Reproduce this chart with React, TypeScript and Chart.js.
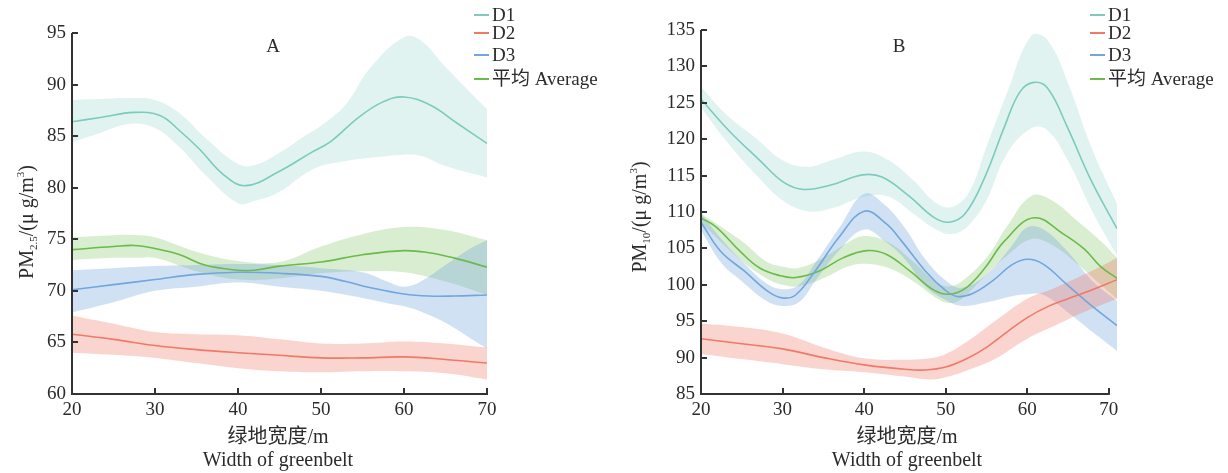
import React, { useEffect, useRef } from 'react';
import { Chart, registerables } from 'chart.js';

Chart.register(...registerables);

const FONT = "'Liberation Serif', 'Noto Sans CJK SC', serif";
const TXT = '#2b2b2b';
const AXIS = '#333333';

const C_D1 = '#7ccbbd';
const C_D2 = '#f07a68';
const C_D3 = '#72a6dd';
const C_AV = '#6bbb4b';
const B_D1 = 'rgba(127,205,192,0.24)';
const B_D2 = 'rgba(240,112,96,0.30)';
const B_D3 = 'rgba(111,163,220,0.32)';
const B_AV = 'rgba(108,185,78,0.26)';

const legendLabels = ['D1', 'D2', 'D3', '平均 Average'];
const xTickValues = [20, 30, 40, 50, 60, 70];
const aYTicks = [60, 65, 70, 75, 80, 85, 90, 95];
const bYTicks = [85, 90, 95, 100, 105, 110, 115, 120, 125, 130, 135];

// ---------------- Panel A (PM2.5) ----------------
const aD1X = [20, 23.4, 27.5, 30.6, 33, 35.4, 38.2, 40.9, 45, 48.8, 51.2, 54.5, 57.4, 60, 63.2, 66.5, 70];
const aD1Y = [86.4, 86.8, 87.3, 87.0, 85.5, 83.7, 81.3, 80.2, 81.6, 83.4, 84.5, 86.8, 88.3, 88.8, 88.0, 86.2, 84.3];
const aD1BandX = [20, 23, 27, 30, 33, 36, 40, 42, 45, 48, 50, 53, 56, 60, 62, 65, 70];
const aD1Hi = [88.5, 88.6, 88.7, 88.5, 87.2, 84.9, 82.3, 82.2, 83.4, 85.0, 86.0, 88.1, 91.7, 94.6, 94.3, 91.7, 87.6];
const aD1Lo = [84.4, 85.2, 86.2, 85.8, 83.9, 81.3, 78.5, 78.7, 79.6, 81.3, 82.1, 82.6, 82.9, 83.2, 83.1, 82.1, 81.0];

const aD2X = [20, 25, 30, 35, 40, 45, 50, 55, 60, 65, 70];
const aD2Y = [65.8, 65.3, 64.7, 64.3, 64.0, 63.75, 63.5, 63.5, 63.6, 63.35, 63.0];
const aD2Hi = [67.6, 66.8, 66.0, 65.8, 65.7, 65.3, 64.9, 64.9, 65.1, 64.9, 64.5];
const aD2Lo = [64.0, 63.8, 63.5, 63.0, 62.5, 62.2, 62.1, 62.2, 62.2, 62.0, 61.4];

const aD3X = [20, 25, 30, 35, 40, 45, 50, 53, 56, 60, 63, 66, 70];
const aD3Y = [70.1, 70.6, 71.1, 71.6, 71.8, 71.7, 71.4, 70.9, 70.3, 69.7, 69.5, 69.5, 69.6];
const aD3BandX = [20, 25, 30, 35, 40, 45, 50, 55, 58, 60, 62, 65, 68, 70];
const aD3Hi = [72.0, 72.2, 72.4, 72.5, 72.6, 72.5, 72.2, 71.8, 70.9, 70.4, 70.9, 72.5, 74.1, 74.9];
const aD3Lo = [67.9, 68.9, 70.0, 70.4, 70.8, 70.4, 70.0, 69.3, 68.8, 68.5, 68.0, 66.9, 65.4, 64.4];

const aAvX = [20, 25, 27.5, 30, 33, 36, 40, 42, 45, 50, 55, 60, 63, 66, 70];
const aAvY = [74.0, 74.3, 74.4, 74.1, 73.5, 72.5, 72.0, 72.0, 72.4, 72.8, 73.5, 73.9, 73.7, 73.2, 72.3];
const aAvBandX = [20, 25, 28, 30, 35, 40, 45, 50, 55, 60, 65, 70];
const aAvHi = [75.2, 75.4, 75.4, 75.2, 73.8, 72.9, 72.8, 74.3, 75.5, 76.2, 75.9, 74.9];
const aAvLo = [73.0, 73.2, 73.2, 73.2, 71.9, 71.1, 71.2, 71.7, 71.9, 71.8, 70.9, 69.6];

// ---------------- Panel B (PM10) ----------------
const bD1X = [20, 23.4, 27.2, 30.1, 32.6, 35.9, 39.8, 42.2, 45.6, 48.5, 50.4, 52.4, 54.8, 57.2, 59.1, 60.8, 62.5, 64.9, 67.8, 71];
const bD1Y = [125.5, 121.2, 117.1, 114.1, 113.1, 113.7, 115.1, 114.8, 112.1, 109.3, 108.6, 109.8, 114.8, 121.7, 126.5, 127.8, 127.0, 121.7, 114.4, 107.7];
const bD1BandX = [20, 23, 27, 30, 33, 36, 40, 43, 46, 49, 51, 53, 55, 57.5, 60.5, 62.5, 65, 68, 71];
const bD1Hi = [127.2, 123.5, 119.9, 117.1, 116.2, 117.1, 118.3, 117.1, 114.4, 111.1, 110.8, 113.0, 119.0, 126.3, 134.2, 133.6, 127.7, 118.5, 111.1];
const bD1Lo = [124.4, 119.9, 114.8, 111.6, 110.1, 110.5, 112.1, 112.1, 109.8, 107.5, 107.0, 108.4, 111.6, 118.0, 121.5, 121.2, 117.0, 110.0, 104.0];

const bD2X = [20, 25, 30, 35, 40, 45, 47.5, 50, 52.5, 55, 57.5, 60, 62.5, 65, 67.5, 71];
const bD2Y = [92.6, 91.9, 91.2, 90.0, 89.0, 88.4, 88.3, 88.7, 89.8, 91.4, 93.5, 95.5, 97.0, 98.1, 99.1, 100.7];
const bD2BandX = [20, 25, 30, 35, 40, 45, 48, 50, 53, 56, 60, 63, 66, 69, 71];
const bD2Hi = [94.7, 94.2, 93.3, 91.4, 89.9, 89.7, 89.9, 90.5, 92.5, 95.0, 98.1, 99.4, 100.9, 102.5, 103.7];
const bD2Lo = [90.5, 89.8, 89.1, 88.4, 88.0, 87.4, 87.0, 87.3, 88.4, 89.8, 92.6, 94.2, 95.8, 97.2, 98.1];

const bD3X = [20, 22.4, 25.3, 28.2, 30, 31.6, 34, 36.9, 40, 42.7, 44.6, 47.5, 49.9, 51.4, 53.3, 55.7, 58.2, 60.1, 62, 64.9, 67.8, 71];
const bD3Y = [108.6, 104.6, 101.9, 99.1, 98.2, 98.6, 101.9, 106.5, 110.1, 108.4, 106.0, 101.9, 99.3, 98.4, 98.8, 100.5, 102.8, 103.5, 102.8, 100.0, 97.2, 94.4];
const bD3BandX = [20, 22.5, 25, 28, 30, 32, 34, 37, 40, 42.5, 45, 47.5, 50, 52, 55, 58, 60, 62, 65, 68, 71];
const bD3Hi = [109.8, 106.3, 103.3, 100.2, 99.4, 100.0, 103.0, 107.9, 112.5, 111.0, 107.8, 103.5, 100.6, 99.6, 101.4, 105.2, 107.9, 107.6, 104.5, 100.5, 97.8];
const bD3Lo = [107.5, 103.0, 100.5, 97.8, 97.1, 97.6, 100.5, 104.8, 107.6, 106.0, 103.5, 99.8, 97.9, 97.1, 97.6, 98.4, 98.7, 98.6, 96.2, 93.5, 90.9];

const bAvX = [20, 21.9, 24.8, 27.2, 29.7, 31.6, 34.5, 37.4, 40.3, 42.7, 45.6, 48.5, 50.4, 52.4, 54.8, 57.2, 60.8, 64.4, 67, 69, 71];
const bAvY = [109.2, 107.9, 104.6, 102.3, 101.25, 101.0, 101.9, 103.7, 104.7, 104.2, 101.9, 99.3, 98.7, 99.5, 102.3, 106.0, 109.2, 107.0, 104.9, 102.5, 100.9];
const bAvBandX = [20, 25, 28, 30, 32, 35, 38, 40, 43, 46, 49, 50.5, 52, 55, 57.5, 60.5, 63, 66, 69, 71];
const bAvHi = [109.8, 106.0, 103.2, 102.5, 102.3, 103.7, 105.8, 106.7, 105.8, 103.2, 100.2, 99.8, 100.5, 103.7, 108.0, 112.2, 111.6, 108.9, 106.0, 103.7];
const bAvLo = [108.5, 103.3, 100.9, 100.0, 99.8, 100.9, 102.5, 102.9, 102.3, 100.5, 98.1, 97.5, 98.1, 101.4, 104.0, 106.3, 105.5, 103.0, 100.0, 98.1];

type Series = {
  color: string;
  band: string;
  lx: number[];
  ly: number[];
  bx: number[];
  hi: number[];
  lo: number[];
};

type Spec = {
  title: string;
  titleX: number;
  xMax: number;
  yMin: number;
  yMax: number;
  yTicks: number[];
  area: { left: number; right: number; top: number; bottom: number };
  series: Series[];
  legendX: [number, number, number];
  legendY: number[];
  yTitle: { x: number; y: number; sub: string };
  xTitleX: number;
};

const W = 614;
const H = 473;
const TENSION = 0.4;

const pts = (xs: number[], ys: number[]) => xs.map((x, i) => ({ x, y: ys[i] }));

function buildDatasets(series: Series[]) {
  const ds: any[] = [];
  series.forEach((s) => {
    ds.push({
      data: pts(s.lx, s.ly),
      borderColor: s.color,
      borderWidth: 1.6,
      pointRadius: 0,
      fill: false,
      tension: TENSION,
    });
  });
  series.forEach((s) => {
    const loIndex = ds.length;
    ds.push({
      data: pts(s.bx, s.lo),
      borderColor: 'rgba(0,0,0,0)',
      borderWidth: 0,
      pointRadius: 0,
      fill: false,
      tension: TENSION,
    });
    ds.push({
      data: pts(s.bx, s.hi),
      borderColor: 'rgba(0,0,0,0)',
      borderWidth: 0,
      pointRadius: 0,
      backgroundColor: s.band,
      fill: { target: loIndex },
      tension: TENSION,
    });
  });
  return ds;
}

function decorPlugin(spec: Spec) {
  return {
    id: 'decor',
    afterDatasetsDraw(chart: any) {
      const { ctx, chartArea: a, scales } = chart;
      const x = scales.x;
      const y = scales.y;
      ctx.save();
      ctx.strokeStyle = AXIS;
      ctx.lineWidth = 2;
      const x0 = a.left;
      const xEnd = x.getPixelForValue(xTickValues[xTickValues.length - 1]);
      ctx.beginPath();
      ctx.moveTo(x0, a.top);
      ctx.lineTo(x0, a.bottom);
      ctx.lineTo(xEnd + 1, a.bottom);
      ctx.stroke();
      ctx.beginPath();
      spec.yTicks.forEach((v) => {
        const py = Math.round(y.getPixelForValue(v));
        ctx.moveTo(x0, py);
        ctx.lineTo(x0 + 6, py);
      });
      xTickValues.forEach((v) => {
        const px = Math.round(x.getPixelForValue(v));
        ctx.moveTo(px, a.bottom);
        ctx.lineTo(px, a.bottom - 6);
      });
      ctx.stroke();

      ctx.fillStyle = TXT;
      ctx.font = `19px ${FONT}`;
      ctx.textAlign = 'center';
      ctx.textBaseline = 'middle';
      ctx.fillText(spec.title, spec.titleX, 47);

      const [l1, l2, tx] = spec.legendX;
      const colors = spec.series.map((s) => s.color);
      legendLabels.forEach((lab, i) => {
        const ly = spec.legendY[i];
        ctx.strokeStyle = colors[i];
        ctx.lineWidth = 2;
        ctx.beginPath();
        ctx.moveTo(l1, ly);
        ctx.lineTo(l2, ly);
        ctx.stroke();
        ctx.fillStyle = TXT;
        ctx.textAlign = 'left';
        ctx.textBaseline = 'middle';
        ctx.font = `19px ${FONT}`;
        ctx.fillText(lab, tx, ly + 1);
      });

      ctx.fillStyle = TXT;
      ctx.textAlign = 'center';
      ctx.textBaseline = 'middle';
      ctx.font = `20px ${FONT}`;
      ctx.fillText('绿地宽度/m', spec.xTitleX, 438);
      ctx.fillText('Width of greenbelt', spec.xTitleX, 461);

      const parts = [
        { t: 'PM', s: 20, dy: 0 },
        { t: spec.yTitle.sub, s: 11, dy: 4 },
        { t: '/(μ g/m', s: 20, dy: 0 },
        { t: '3', s: 11, dy: -9 },
        { t: ')', s: 20, dy: 0 },
      ];
      let total = 0;
      const widths = parts.map((p) => {
        ctx.font = `${p.s}px ${FONT}`;
        const w = ctx.measureText(p.t).width;
        total += w;
        return w;
      });
      ctx.translate(spec.yTitle.x, spec.yTitle.y);
      ctx.rotate(-Math.PI / 2);
      ctx.textAlign = 'left';
      ctx.textBaseline = 'alphabetic';
      let cx = -total / 2;
      parts.forEach((p, i) => {
        ctx.font = `${p.s}px ${FONT}`;
        ctx.fillText(p.t, cx, p.dy);
        cx += widths[i];
      });
      ctx.restore();
    },
  };
}

function Panel({ spec, left }: { spec: Spec; left: number }) {
  const ref = useRef<HTMLCanvasElement | null>(null);
  useEffect(() => {
    if (!ref.current) return;
    const a = spec.area;
    const chart = new Chart(ref.current, {
      type: 'line',
      data: { datasets: buildDatasets(spec.series) },
      options: {
        animation: false,
        responsive: false,
        events: [],
        layout: { padding: { left: 0, top: a.top, right: W - a.right, bottom: 0 } },
        plugins: {
          legend: { display: false },
          tooltip: { enabled: false },
          title: { display: false },
          filler: { drawTime: 'beforeDatasetsDraw', propagate: false },
        },
        scales: {
          x: {
            type: 'linear',
            min: 20,
            max: spec.xMax,
            afterBuildTicks: (s: any) => {
              s.ticks = xTickValues.map((v) => ({ value: v }));
            },
            afterFit: (s: any) => {
              s.height = H - a.bottom;
              s.paddingLeft = 0;
              s.paddingRight = 0;
            },
            ticks: {
              autoSkip: false,
              maxRotation: 0,
              padding: 5,
              color: TXT,
              font: { family: FONT, size: 19 },
              callback: (v: any) => String(v),
            },
            grid: { display: false, drawTicks: false },
            border: { display: false },
          },
          y: {
            type: 'linear',
            min: spec.yMin,
            max: spec.yMax,
            afterBuildTicks: (s: any) => {
              s.ticks = spec.yTicks.map((v) => ({ value: v }));
            },
            afterFit: (s: any) => {
              s.width = a.left;
              s.paddingTop = 0;
              s.paddingBottom = 0;
            },
            ticks: {
              autoSkip: false,
              padding: 6,
              color: TXT,
              font: { family: FONT, size: 19 },
              callback: (v: any) => String(v),
            },
            grid: { display: false, drawTicks: false },
            border: { display: false },
          },
        },
      } as any,
      plugins: [decorPlugin(spec)],
    });
    return () => chart.destroy();
  }, [spec]);
  return (
    <canvas
      ref={ref}
      width={W}
      height={H}
      style={{ position: 'absolute', left, top: 0, width: W, height: H }}
    />
  );
}

const specA: Spec = {
  title: 'A',
  titleX: 273,
  xMax: 70,
  yMin: 60,
  yMax: 95,
  yTicks: aYTicks,
  area: { left: 72, right: 487, top: 33, bottom: 394 },
  series: [
    { color: C_D1, band: B_D1, lx: aD1X, ly: aD1Y, bx: aD1BandX, hi: aD1Hi, lo: aD1Lo },
    { color: C_D2, band: B_D2, lx: aD2X, ly: aD2Y, bx: aD2X, hi: aD2Hi, lo: aD2Lo },
    { color: C_D3, band: B_D3, lx: aD3X, ly: aD3Y, bx: aD3BandX, hi: aD3Hi, lo: aD3Lo },
    { color: C_AV, band: B_AV, lx: aAvX, ly: aAvY, bx: aAvBandX, hi: aAvHi, lo: aAvLo },
  ],
  legendX: [474, 489, 492],
  legendY: [15, 33, 55, 79],
  yTitle: { x: 33, y: 222, sub: '2.5' },
  xTitleX: 278,
};

const specB: Spec = {
  title: 'B',
  titleX: 899 - 614,
  xMax: 71,
  yMin: 85,
  yMax: 135,
  yTicks: bYTicks,
  area: { left: 87, right: 1117 - 614, top: 30, bottom: 394 },
  series: [
    { color: C_D1, band: B_D1, lx: bD1X, ly: bD1Y, bx: bD1BandX, hi: bD1Hi, lo: bD1Lo },
    { color: C_D2, band: B_D2, lx: bD2X, ly: bD2Y, bx: bD2BandX, hi: bD2Hi, lo: bD2Lo },
    { color: C_D3, band: B_D3, lx: bD3X, ly: bD3Y, bx: bD3BandX, hi: bD3Hi, lo: bD3Lo },
    { color: C_AV, band: B_AV, lx: bAvX, ly: bAvY, bx: bAvBandX, hi: bAvHi, lo: bAvLo },
  ],
  legendX: [1090 - 614, 1105 - 614, 1108 - 614],
  legendY: [15, 33, 55, 79],
  yTitle: { x: 646 - 614, y: 217, sub: '10' },
  xTitleX: 907 - 614,
};

export default function App() {
  return (
    <div
      style={{
        position: 'absolute',
        left: 0,
        top: 0,
        width: 1228,
        height: 473,
        background: '#ffffff',
        overflow: 'hidden',
      }}
    >
      <Panel spec={specA} left={0} />
      <Panel spec={specB} left={614} />
    </div>
  );
}
